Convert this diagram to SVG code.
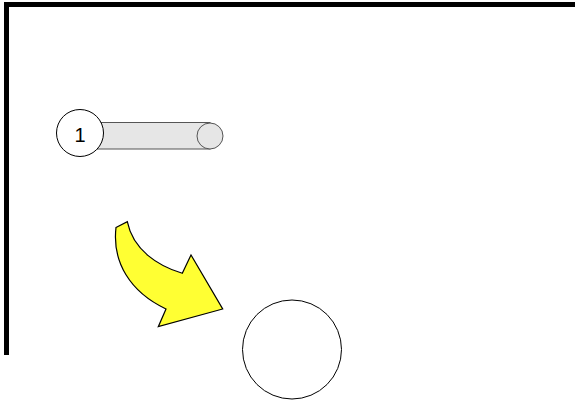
<svg xmlns="http://www.w3.org/2000/svg" width="575" height="400" viewBox="0 0 575 400">
<style>
.bar{fill:#000}
.cyl{fill:#e6e6e6;stroke:#555;stroke-width:1}
.node{fill:#fff;stroke:#000;stroke-width:1}
.arrow{fill:#ffff33;stroke:#000;stroke-width:1.2;stroke-linejoin:miter}
.lbl{font-family:'Liberation Sans',Arial,sans-serif;font-size:20px;fill:#000;text-anchor:middle}
</style>
<rect width="575" height="400" fill="#fff"/>
<g id="frame">
<rect class="bar" x="4" y="2" width="571" height="5"/>
<rect class="bar" x="4" y="2" width="5" height="353"/>
</g>
<g id="cylinder">
<rect class="cyl" x="95" y="122.5" width="115" height="26.5"/>
<circle class="cyl" cx="210" cy="136" r="13"/>
</g>
<g id="node1">
<circle class="node" cx="80" cy="133" r="23.5"/>
<text class="lbl" x="80" y="142.3">1</text>
</g>
<g id="connectors">
<path class="arrow" d="M116,227.5 L127.3,221.7 C133,250 158,266 182.3,273.3 L191,255 L222.7,309 L158.3,326.7 L166,309 C130,292 112,262 116,227.5 Z"/>
</g>
<g id="node2">
<circle class="node" cx="292" cy="349.5" r="49.5"/>
</g>
</svg>
